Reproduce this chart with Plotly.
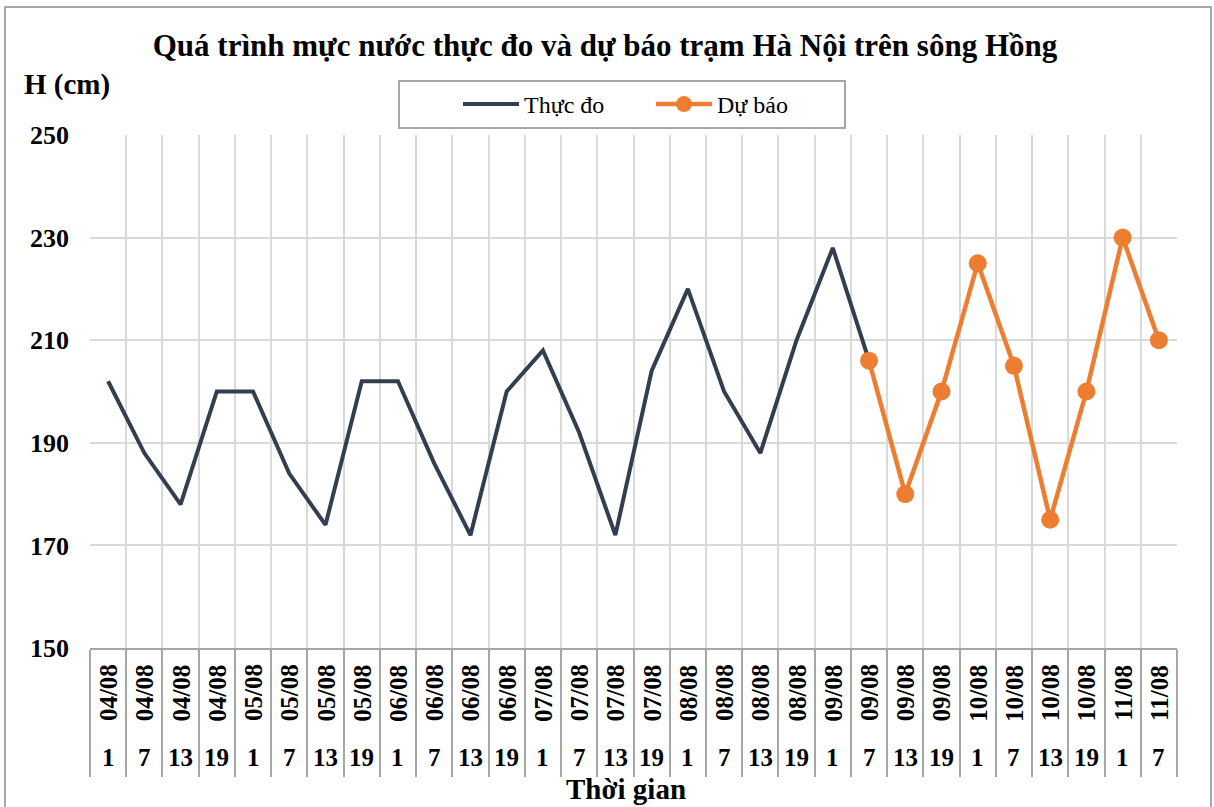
import plotly.graph_objects as go

dates = ["04/08", "04/08", "04/08", "04/08", "05/08", "05/08", "05/08", "05/08",
         "06/08", "06/08", "06/08", "06/08", "07/08", "07/08", "07/08", "07/08",
         "08/08", "08/08", "08/08", "08/08", "09/08", "09/08", "09/08", "09/08",
         "10/08", "10/08", "10/08", "10/08", "11/08", "11/08"]
hours = ["1", "7", "13", "19", "1", "7", "13", "19",
         "1", "7", "13", "19", "1", "7", "13", "19",
         "1", "7", "13", "19", "1", "7", "13", "19",
         "1", "7", "13", "19", "1", "7"]
observed = [202, 188, 178, 200, 200, 184, 174, 202, 202, 186, 172, 200, 208, 192, 172,
            204, 220, 200, 188, 210, 228, 206] + [None] * 8
forecast = [None] * 21 + [206, 180, 200, 225, 205, 175, 200, 230, 210]

cats = [f"{d} {h}h" for d, h in zip(dates, hours)]

FONT = "Liberation Serif"
W, H = 1214, 807
ML, MR, MT, MB = 90, 37, 135, 159
PW, PH = W - ML - MR, H - MT - MB


def px(x):
    return (x - ML) / PW


def py(y):
    return (H - MB - y) / PH


fig = go.Figure()
fig.add_trace(go.Scatter(x=cats, y=observed, mode="lines", name="Thực đo",
                         line=dict(color="#333F50", width=4)))
fig.add_trace(go.Scatter(x=cats, y=forecast, mode="lines+markers", name="Dự báo",
                         line=dict(color="#ED7D31", width=4.5),
                         marker=dict(color="#ED7D31", size=18)))

annotations = []
for c, d, h in zip(cats, dates, hours):
    annotations.append(dict(x=c, y=py(693), xref="x", yref="paper", text=d,
                            textangle=-90, showarrow=False, xanchor="center", yanchor="middle",
                            font=dict(family=FONT, size=25, color="black", weight="bold")))
    annotations.append(dict(x=c, y=py(757), xref="x", yref="paper", text=h,
                            showarrow=False, xanchor="center", yanchor="middle",
                            font=dict(family=FONT, size=25, color="black", weight="bold")))
annotations.append(dict(x=px(626), y=py(789), xref="paper", yref="paper", text="Thời gian",
                        showarrow=False, xanchor="center", yanchor="middle",
                        font=dict(family=FONT, size=29, color="black", weight="bold")))
annotations.append(dict(x=px(67), y=py(84), xref="paper", yref="paper", text="H (cm)",
                        showarrow=False, xanchor="center", yanchor="middle",
                        font=dict(family=FONT, size=29, color="black", weight="bold")))

fig.update_layout(
    width=W, height=H,
    margin=dict(l=ML, r=MR, t=MT, b=MB),
    paper_bgcolor="white", plot_bgcolor="white",
    title=dict(text="<b>Quá trình mực nước thực đo và dự báo trạm Hà Nội trên sông Hồng</b>",
               x=605 / W, xref="container", xanchor="center",
               y=1 - 45 / H, yref="container", yanchor="middle",
               font=dict(family=FONT, size=31, color="black")),
    legend=dict(orientation="h", x=px(622), xanchor="center", y=py(80), yanchor="top",
                bordercolor="#A6A6A6", borderwidth=2, bgcolor="white",
                font=dict(family=FONT, size=24, color="black"),
                title=dict(text="&nbsp;" * 8, side="left",
                           font=dict(family=FONT, size=24)),
                entrywidth=122, itemwidth=56, tracegroupgap=0),
    annotations=annotations,
    shapes=[dict(type="rect", xref="paper", yref="paper",
                 x0=px(5), x1=px(1211), y0=py(830), y1=py(7),
                 line=dict(color="#8C8C8C", width=1.5), layer="below")],
    showlegend=True,
)
fig.update_xaxes(type="category", range=[-0.5, len(cats) - 0.5],
                 tickson="boundaries", showgrid=True, gridcolor="#D9D9D9", gridwidth=1.5,
                 ticks="outside", ticklen=127, tickcolor="#A6A6A6", tickwidth=1.5,
                 showticklabels=False, showline=True, linecolor="#A6A6A6", linewidth=1.5,
                 zeroline=False, fixedrange=True)
fig.update_yaxes(range=[150, 250], dtick=20, tick0=150, showgrid=True, gridcolor="#D9D9D9",
                 gridwidth=1.5, zeroline=False, showline=False, ticks="",
                 ticklabelstandoff=20,
                 tickfont=dict(family=FONT, size=26, color="black", weight="bold"))

fig.write_html("out.html", config={"displayModeBar": False},
               post_script="document.body.style.margin='0';")
